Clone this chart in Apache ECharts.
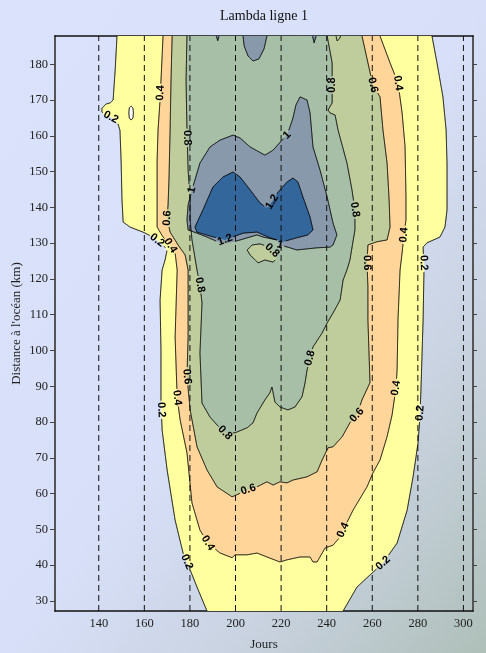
<!DOCTYPE html>
<html><head><meta charset="utf-8">
<script src="https://cdn.jsdelivr.net/npm/echarts@6/dist/echarts.min.js"></script>
<style>
html,body{margin:0;padding:0;}
#c{width:486px;height:653px;background:linear-gradient(to bottom right,#dbe3fc 0%,#d8e0f9 50%,#c8d2df 75%,#aebfb8 100%);}
</style>
</head><body><div id="c"></div>
<script>
// ---------- texts & axes ----------
const chartTitle = 'Lambda ligne 1';
const xName = 'Jours';
const yName = "Distance à l'océan (km)";
const xTicks = [140,160,180,200,220,240,260,280,300];
const yTicks = [30,40,50,60,70,80,90,100,110,120,130,140,150,160,170,180];
const xRange = [120.8, 304.2];
const yRange = [27.2, 187.9];
const levels = [0.2,0.4,0.6,0.8,1,1.2];
const bandColors = ['#ffffff','#ffffa0','#ffd59a','#bfcc9c','#a7bfa7','#8899ac','#33669a'];

// ---------- contour polygons [jour, km] ----------
const contour02 = [[148.1,189],[148.0,187.9],[147.2,178.4],[146.3,170.0],[145.0,169.2],[143.2,168.9],[141.4,167.7],[141.4,166.7],[142.8,165.5],[145.0,165.3],[146.7,164.7],[148.5,163.2],[149.3,161.6],[149.8,153.2],[150.2,142.1],[150.7,135.9],[153.7,134.5],[159.4,133.1],[163.8,131.7],[168.2,129.5],[170.0,128.1],[169.1,125.3],[167.8,122.5],[166.9,114.1],[167.3,100.2],[167.3,86.2],[167.8,77.8],[170.0,66.6],[173.5,52.6],[177.0,43.4],[180.1,38.7],[183.1,33.9],[187.5,27.2],[189.0,25],
  [245.2,25],[247.2,27.2],[253.3,33.9],[259.9,37.8],[264.7,40.6],[270.9,46.2],[275.3,55.4],[277.9,64.7],[280.1,74.2],[281.0,82.5],[281.4,89.8],[282.3,108.6],[282.7,122.5],[282.3,128.9],[284.0,130.1],[289.7,131.7],[291.9,134.5],[292.8,139.3],[292.8,152.4],[292.4,161.6],[291.0,170.9],[288.4,180.4],[286.2,187.9],[285.9,189]];
const hole02 = [[154.2,168.3],[155.0,167.8],[155.2,166.4],[155.0,165.0],[154.2,164.4],[153.4,165.0],[153.2,166.4],[153.4,167.8]];
const contour04 = [[168.3,189],[168.2,187.9],[166.9,170.0],[166.0,161.6],[165.6,153.2],[165.6,142.1],[165.6,134.5],[168.2,131.7],[171.3,129.5],[173.5,127.3],[174.4,122.5],[173.5,103.8],[174.4,86.8],[175.7,80.6],[178.7,71.4],[180.9,57.4],[184.4,49.8],[187.9,46.2],[193.2,43.4],[198.5,42.1],[199.8,42.9],[205.1,42.9],[209.4,43.4],[213.8,42.3],[219.5,40.9],[222.6,41.5],[228.3,42.3],[232.7,42.3],[234.0,40.9],[235.8,40.9],[239.3,44.8],[242.8,45.6],[245.9,47.9],[247.2,49.8],[251.6,55.4],[257.7,61.9],[260.3,65.8],[263.4,69.4],[266.5,75.9],[268.7,82.0],[270.4,89.5],[270.9,94.6],[271.3,108.6],[272.2,122.5],[273.1,127.3],[273.9,132.3],[274.8,136.5],[274.8,142.9],[274.4,156.9],[273.1,166.4],[271.3,174.8],[267.8,180.4],[263.4,187.9],[262.8,189]];
const contour06 = [[172.2,189],[172.2,187.9],[171.7,175.6],[171.3,161.6],[170.8,147.7],[170.4,140.7],[170.0,137.0],[171.3,133.1],[174.8,129.5],[177.9,126.7],[179.2,122.5],[179.2,103.8],[178.7,92.9],[180.1,83.4],[183.1,73.1],[187.5,66.6],[191.9,61.9],[198.5,59.1],[205.5,61.1],[209.4,61.9],[213.8,63.3],[216.5,62.4],[219.5,63.3],[222.6,63.0],[225.2,63.8],[231.4,64.7],[235.8,66.1],[238.0,69.4],[240.6,72.8],[242.8,73.1],[246.8,75.9],[250.2,79.8],[253.3,82.0],[255.5,86.2],[259.0,91.0],[258.1,108.6],[258.1,117.8],[257.7,124.5],[258.1,129.5],[262.1,130.4],[266.5,130.9],[267.8,134.5],[267.4,142.1],[266.5,152.4],[264.7,161.6],[263.4,170.9],[260.3,174.2],[258.1,180.4],[255.5,187.9],[255.1,189]];
const contour08 = [[178.7,189],[178.7,187.9],[178.3,175.6],[178.7,161.6],[179.2,150.4],[180.1,142.1],[180.1,136.5],[180.9,130.9],[183.1,122.5],[184.4,118.3],[185.3,113.3],[184.4,99.3],[185.3,85.3],[188.8,81.4],[191.9,79.2],[195.4,77.0],[199.8,77.0],[205.1,78.4],[207.7,79.8],[209.4,82.5],[212.9,86.2],[215.1,88.2],[216.0,89.8],[217.3,85.6],[219.5,84.2],[223.0,83.4],[226.1,84.2],[229.2,87.1],[230.5,90.9],[231.4,94.6],[232.7,97.9],[234.0,101.0],[238.0,104.9],[240.2,107.7],[242.8,110.5],[245.9,114.1],[247.2,119.7],[248.9,122.5],[250.2,125.3],[252.4,133.7],[252.4,139.3],[251.1,144.9],[248.9,152.4],[245.0,161.6],[243.7,165.8],[241.5,166.4],[240.6,167.2],[242.4,169.2],[242.4,174.2],[242.4,180.4],[240.2,187.9],[240.0,189]];
const hole08 = [[205.1,128.1],[207.3,129.5],[210.8,129.8],[214.3,129.0],[216.9,127.5],[218.2,125.9],[216.5,124.7],[212.9,125.3],[209.9,124.5],[206.4,126.7]];
const hole08top = [[243.7,189],[244.6,186.5],[245.8,187.3],[246.5,189]];
const contour10 = [[179.2,133.7],[178.7,136.5],[179.2,140.7],[180.9,144.9],[184.4,152.4],[188.8,156.9],[193.2,158.8],[198.9,160.2],[202.0,159.4],[206.4,156.9],[212.9,154.6],[216.5,156.0],[220.4,158.8],[222.6,160.2],[223.9,162.5],[225.2,165.0],[226.5,168.6],[228.3,170.9],[231.4,170.0],[232.7,166.4],[234.0,156.9],[237.1,150.4],[240.2,142.9],[242.8,135.6],[244.5,132.3],[242.8,129.5],[241.5,128.9],[235.8,128.7],[226.9,128.1],[223.9,128.7],[219.5,129.5],[218.2,130.9],[212.1,131.7],[209.4,132.3],[202.0,130.9],[197.6,130.1],[193.2,130.1],[187.5,131.7],[183.1,132.8]];
const contour10top = [[203.3,189],[203.3,187.9],[203.8,185.1],[205.5,182.3],[207.7,180.9],[210.3,181.5],[212.5,184.3],[213.8,187.9],[213.8,189]];
const contour10a = [[191.1,189],[192.2,186.6],[193.2,189]];
const contour10b = [[233.4,189],[234.5,186.0],[235.8,189]];
const contour12 = [[182.2,134.5],[185.7,139.3],[190.1,145.7],[194.5,148.5],[198.9,149.9],[202.0,148.5],[206.4,144.9],[210.8,141.2],[213.8,139.8],[216.0,141.5],[218.7,144.3],[222.6,147.1],[225.2,148.2],[227.4,147.1],[229.6,142.9],[232.7,137.3],[234.0,133.7],[231.8,132.3],[226.9,131.5],[220.8,130.4],[215.1,131.5],[209.4,133.1],[203.3,132.8],[195.4,130.9],[188.8,132.0],[183.1,133.1]];

// ---------- contour labels [jour, km, texte] ----------
const contourLabels = [
  [145.8,165.8,'0.2'],[166.0,172.0,'0.4'],[177.9,159.4,'0.8'],[180.7,144.9,'1'],[222.5,160.2,'1'],
  [215.9,141.6,'1.2'],[195.4,130.9,'1.2'],[219.5,129.5,'1'],[215.1,127.3,'0.8'],[169.7,137.0,'0.6'],
  [170.4,128.9,'0.4'],[164.7,130.1,'0.2'],[184.0,118.3,'0.8'],[178.6,92.7,'0.6'],[174.5,86.8,'0.4'],
  [167.1,83.4,'0.2'],[195.4,77.0,'0.8'],[232.7,97.9,'0.8'],[205.6,61.1,'0.6'],[187.9,46.2,'0.4'],
  [178.6,40.9,'0.2'],[247.2,49.8,'0.4'],[264.7,40.6,'0.2'],[253.2,82.0,'0.6'],[281.0,82.5,'0.2'],
  [270.4,89.5,'0.4'],[257.5,124.5,'0.6'],[281.7,124.5,'0.2'],[273.9,132.3,'0.4'],[251.7,139.3,'0.8'],
  [242.5,174.2,'0.8'],[260.2,174.2,'0.6'],[271.2,174.7,'0.4']
];

// region list: level on the boundary, above=true when inside is above the level
const regions = [
  {pts: contour02, level: 0.2, above: true},
  {pts: hole02, level: 0.2, above: false},
  {pts: contour04, level: 0.4, above: true},
  {pts: contour06, level: 0.6, above: true},
  {pts: contour08, level: 0.8, above: true},
  {pts: hole08, level: 0.8, above: false},
  {pts: hole08top, level: 0.8, above: false},
  {pts: contour10, level: 1, above: true},
  {pts: contour10top, level: 1, above: true},
  {pts: contour10a, level: 1, above: true},
  {pts: contour10b, level: 1, above: true},
  {pts: contour12, level: 1.2, above: true}
];

function fillOf(r){ return bandColors[levels.indexOf(r.level) + (r.above ? 1 : 0)]; }

function labelGeometry(api){
  const regionPx = regions.map(r => r.pts.map(p => api.coord(p)));
  return contourLabels.map(([d,k,t]) => {
    const lv = parseFloat(t);
    const p = api.coord([d,k]);
    let best = null;
    regions.forEach((r,ri) => {
      if (Math.abs(r.level - lv) > 1e-9) return;
      const pts = regionPx[ri];
      for (let i = 0; i < pts.length; i++){
        const a = pts[i], b = pts[(i+1) % pts.length];
        const dx = b[0]-a[0], dy = b[1]-a[1], L2 = dx*dx + dy*dy;
        if (L2 < 1e-9) continue;
        let s = ((p[0]-a[0])*dx + (p[1]-a[1])*dy) / L2;
        s = Math.max(0, Math.min(1, s));
        const qx = a[0]+s*dx, qy = a[1]+s*dy, dd = (qx-p[0])**2 + (qy-p[1])**2;
        if (!best || dd < best.dd) best = {dd, qx, qy, dx, dy};
      }
    });
    let ang = Math.atan2(-best.dy, best.dx);
    if (ang > Math.PI/2) ang -= Math.PI;
    if (ang <= -Math.PI/2) ang += Math.PI;
    let w = 0; for (const ch of t) w += (ch === '.') ? 3.1 : 6.1;
    return {x: best.qx, y: best.qy, rot: ang, text: t, hw: w/2 + 1.5, hh: 5.5};
  });
}

const chart = echarts.init(document.getElementById('c'), null, {renderer: 'canvas'});
const axisFont = {fontFamily: '"Liberation Serif", serif', fontSize: 12.5, color: '#222'};
const nameFont = {fontFamily: '"Liberation Serif", serif', fontSize: 13, color: '#222'};

chart.setOption({
  backgroundColor: 'transparent',
  animation: false,
  graphic: [{
    type: 'text', x: 264, y: 9,
    style: {text: chartTitle, font: '14px "Liberation Serif", serif', fill: '#111', textAlign: 'center', align: 'center'}
  }],
  grid: {left: 55, right: 13, top: 36, bottom: 42, containLabel: false, outerBoundsMode: 'none'},
  xAxis: [{
    type: 'value', min: xRange[0], max: xRange[1], position: 'bottom',
    name: xName, nameLocation: 'middle', nameGap: 27, nameMoveOverlap: false,
    nameTextStyle: nameFont,
    axisLine: {show: true, onZero: false, lineStyle: {color: '#111', width: 1.5}},
    axisTick: {show: false},
    axisLabel: Object.assign({margin: 6, customValues: xTicks, showMinLabel: true, showMaxLabel: true}, axisFont),
    splitLine: {show: false}
  },{
    type: 'value', min: xRange[0], max: xRange[1], position: 'top',
    axisLine: {show: true, onZero: false, lineStyle: {color: '#111', width: 1.5}},
    axisTick: {show: false}, axisLabel: {show: false}, splitLine: {show: false}
  }],
  yAxis: [{
    type: 'value', min: yRange[0], max: yRange[1], position: 'left',
    name: yName, nameLocation: 'middle', nameGap: 31.5, nameMoveOverlap: false,
    nameTextStyle: nameFont,
    axisLine: {show: true, onZero: false, lineStyle: {color: '#555', width: 2}},
    axisTick: {show: true, length: 5, customValues: yTicks, lineStyle: {color: '#444', width: 1}},
    axisLabel: Object.assign({margin: 7, customValues: yTicks}, axisFont),
    splitLine: {show: false}
  },{
    type: 'value', min: yRange[0], max: yRange[1], position: 'right',
    axisLine: {show: true, onZero: false, lineStyle: {color: '#555', width: 2}},
    axisTick: {show: true, length: 4, customValues: yTicks, lineStyle: {color: '#444', width: 1}},
    axisLabel: {show: false}, splitLine: {show: false}
  }],
  series: [{
    type: 'custom', name: 'fills', coordinateSystem: 'cartesian2d', silent: true, z: 1, clip: true,
    data: regions.map(r => r.pts[0]),
    renderItem: (params, api) => {
      const r = regions[params.dataIndex];
      const cs = params.coordSys;
      const pts = r.pts.map(p => {
        const c = api.coord(p);
        return [Math.min(Math.max(c[0], cs.x), cs.x + cs.width), Math.min(Math.max(c[1], cs.y), cs.y + cs.height)];
      });
      return {type: 'polygon', shape: {points: pts}, style: {fill: fillOf(r), stroke: null}};
    }
  },{
    type: 'custom', name: 'lines', coordinateSystem: 'cartesian2d', silent: true, z: 2,
    data: [[xTicks[0], yTicks[0]]],
    renderItem: (params, api) => {
      const cs = params.coordSys;
      const labs = labelGeometry(api);
      const inGap = (x, y) => labs.some(L => {
        const ux = x - L.x, uy = y - L.y, c = Math.cos(L.rot), s = Math.sin(L.rot);
        const u = ux*c - uy*s, v = ux*s + uy*c;
        return Math.abs(u) <= L.hw && Math.abs(v) <= L.hh;
      });
      const children = [];
      regions.forEach(r => {
        const pts = r.pts.map(p => api.coord(p));
        let cur = [];
        const flush = () => {
          if (cur.length > 1) children.push({type: 'polyline', shape: {points: cur}, style: {stroke: '#000', lineWidth: 1, fill: null}});
          cur = [];
        };
        for (let i = 0; i < pts.length; i++){
          const a = pts[i], b = pts[(i+1) % pts.length];
          const len = Math.hypot(b[0]-a[0], b[1]-a[1]);
          const n = Math.max(1, Math.ceil(len / 0.75));
          for (let j = 0; j < n; j++){
            const x0 = a[0] + (b[0]-a[0])*j/n, y0 = a[1] + (b[1]-a[1])*j/n;
            const x1 = a[0] + (b[0]-a[0])*(j+1)/n, y1 = a[1] + (b[1]-a[1])*(j+1)/n;
            const mx = (x0+x1)/2, my = (y0+y1)/2;
            const ok = mx > cs.x && mx < cs.x + cs.width && my > cs.y + 0.3 && my < cs.y + cs.height - 0.3 && !inGap(mx, my);
            if (ok){ if (cur.length === 0) cur.push([x0, y0]); cur.push([x1, y1]); }
            else flush();
          }
        }
        flush();
      });
      return {type: 'group', children};
    }
  },{
    type: 'custom', name: 'labels', coordinateSystem: 'cartesian2d', silent: true, z: 3,
    data: [[xTicks[0], yTicks[0]]],
    renderItem: (params, api) => {
      const labs = labelGeometry(api);
      return {type: 'group', children: labs.map(L => ({
        type: 'text', x: L.x, y: L.y, rotation: L.rot,
        style: {text: L.text, font: 'bold 11px "Liberation Sans", Arial, sans-serif', fill: '#000',
                align: 'center', verticalAlign: 'middle', textAlign: 'center', textVerticalAlign: 'middle'}
      }))};
    }
  },{
    type: 'custom', name: 'dashes', coordinateSystem: 'cartesian2d', silent: true, z: 4,
    data: xTicks.map(x => [x, yTicks[0]]),
    renderItem: (params, api) => {
      const x = api.value(0);
      const a = api.coord([x, yRange[0]]), b = api.coord([x, yRange[1]]);
      return {type: 'line', shape: {x1: a[0], y1: a[1], x2: b[0], y2: b[1]}, style: {stroke: '#111', lineWidth: 1, lineDash: [6, 4]}};
    }
  }]
});
</script>
</body></html>
